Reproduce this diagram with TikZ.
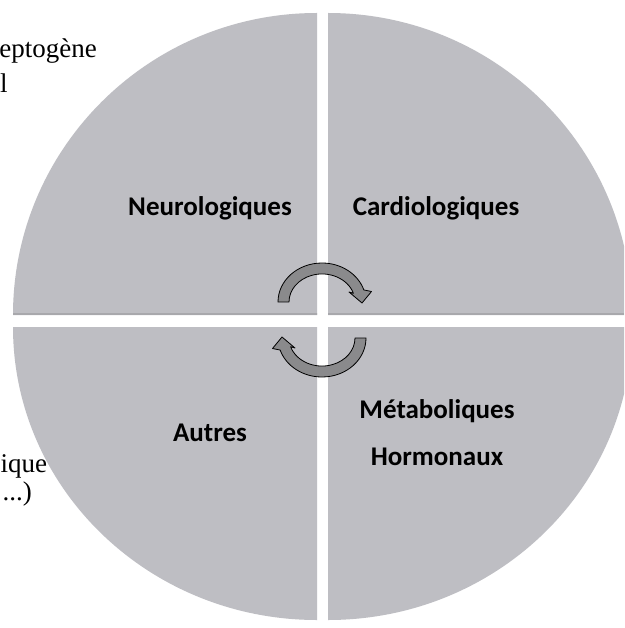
\documentclass[tikz,border=0pt]{standalone}
\usepackage{fontspec}
\setmainfont{Carlito}
\newfontfamily\fragfont{Liberation Serif}
\definecolor{quad}{RGB}{190,190,195}
\definecolor{quadshade}{RGB}{168,168,172}
\definecolor{arrowgray}{RGB}{138,138,140}
\tikzset{
  quadfill/.style={fill=quad, draw=none},
  cyclearrow/.style={fill=arrowgray, draw=black, line width=0.8pt, line join=round},
  label/.style={font=\fontsize{27}{33}\selectfont\bfseries, text=black, inner sep=0pt, align=center},
  frag/.style={font=\fragfont\fontsize{27}{32}\selectfont, text=black, inner sep=0pt}
}
\begin{document}
\begin{tikzpicture}[x=1pt,y=-1pt]
\useasboundingbox (0,0) rectangle (624,628);
\fill[white] (0,0) rectangle (624,628);
% fragments of surrounding text
\node[frag, anchor=base east] (f1) at (97,58) {eptogène};
\node[frag, anchor=base west] (f2) at (0,93) {l};
\node[frag, anchor=base west] (f3) at (0.5,472) {ique};
\node[frag, anchor=base east] (f4) at (32,500) {...)};
\begin{scope}
\clip (0,0) rectangle (624,628);
% top-left quadrant
\path[quadfill] (317,315) -- (13,315) arc[start angle=180, end angle=270, x radius=304, y radius=302] -- cycle;
% top-right quadrant
\path[quadfill] (328,315) -- (328,13) arc[start angle=270, end angle=360, x radius=304, y radius=302] -- cycle;
% bottom-left quadrant
\path[quadfill] (317,327) -- (317,620) arc[start angle=90, end angle=180, x radius=304, y radius=293] -- cycle;
% bottom-right quadrant
\path[quadfill] (328,327) -- (632,327) arc[start angle=0, end angle=90, x radius=304, y radius=293] -- cycle;
% shading along the lower edge of the top quadrants
\begin{scope}
\clip (317,315) -- (13,315) arc[start angle=180, end angle=270, x radius=304, y radius=302] -- cycle
      (328,315) -- (328,13) arc[start angle=270, end angle=360, x radius=304, y radius=302] -- cycle;
\fill[quadshade] (0,312.5) rectangle (624,315);
\end{scope}
\end{scope}
% labels
\node[label] (neuro) at (210,208) {Neurologiques};
\node[label] (cardio) at (436,208) {Cardiologiques};
\node[label] (autres) at (210,433) {Autres};
\node[label] (meta) at (437,433) {Métaboliques\\[14pt]Hormonaux};
% circular arrows
% upper arrow, centre (322,302), turning clockwise over the top
\path[cyclearrow] (278,302) arc[start angle=180, end angle=342, x radius=44, y radius=39]
  -- (371.5,291.5) -- (362,303) -- (349,292)
  -- (353.4,293.3) arc[start angle=342, end angle=180, x radius=33, y radius=28] -- cycle;
% lower arrow, centre (322,338), turning clockwise under the bottom
\path[cyclearrow] (366,338) arc[start angle=0, end angle=162, x radius=44, y radius=39]
  -- (272.5,348.5) -- (282,337) -- (295,348)
  -- (290.6,346.7) arc[start angle=162, end angle=0, x radius=33, y radius=28] -- cycle;
\end{tikzpicture}
\end{document}
